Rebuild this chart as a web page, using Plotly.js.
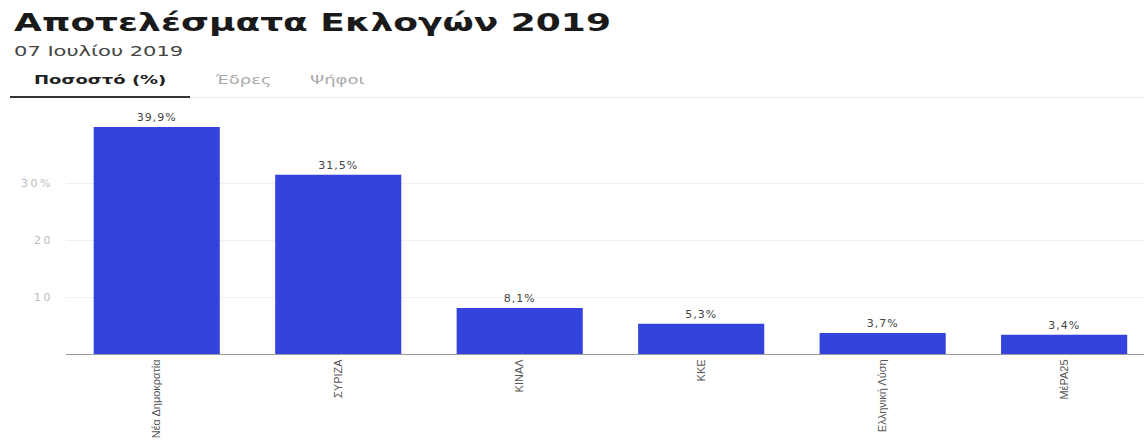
<!DOCTYPE html>
<html>
<head>
<meta charset="utf-8">
<script src="https://cdn.plot.ly/plotly-3.0.1.min.js"></script>
<style>
html,body{margin:0;padding:0;background:#fff;}
#chart{width:1144px;height:441px;}
.annotation text.annotation-text{transform:scaleX(1.5);transform-box:fill-box;transform-origin:0 50%;}
text.bartext{letter-spacing:1px;}
.ytick text{letter-spacing:2.5px;}
</style>
</head>
<body>
<div id="chart"></div>
<script>
const parties = ["Νέα Δημοκρατία", "ΣΥΡΙΖΑ", "ΚΙΝΑΛ", "ΚΚΕ", "Ελληνική Λύση", "ΜέΡΑ25"];
const percentages = [39.9, 31.5, 8.1, 5.3, 3.7, 3.4];
const yTickValues = [10, 20, 30];
const yTickLabels = ["10", "20", "30%"];
const titleText = "Αποτελέσματα Εκλογών 2019";
const subtitleText = "07 Ιουλίου 2019";
const tabLabels = ["Ποσοστό (%)", "Έδρες", "Ψήφοι"];

const W = 1144, H = 441;
const M = {l: 66, r: 0, t: 115, b: 87};
const PW = W - M.l - M.r, PH = H - M.t - M.b;
const px = x => (x - M.l) / PW;
const py = y => (H - M.b - y) / PH;

const annotations = [
  {text: "<b>" + titleText + "</b>", x: px(12), y: py(23), xanchor: "left", yanchor: "middle",
   font: {family: "DejaVu Sans", size: 24, color: "#1a1a1a"}},
  {text: subtitleText, x: px(12), y: py(51), xanchor: "left", yanchor: "middle",
   font: {family: "DejaVu Sans", size: 14, color: "#444"}},
  {text: "<b>" + tabLabels[0] + "</b>", x: px(32), y: py(80), xanchor: "left", yanchor: "middle",
   font: {family: "DejaVu Sans", size: 12, color: "#222"}},
  {text: tabLabels[1], x: px(212), y: py(80), xanchor: "left", yanchor: "middle",
   font: {family: "DejaVu Sans", size: 12, color: "#aaa"}},
  {text: tabLabels[2], x: px(308), y: py(80), xanchor: "left", yanchor: "middle",
   font: {family: "DejaVu Sans", size: 12, color: "#aaa"}}
].map(a => Object.assign({xref: "paper", yref: "paper", showarrow: false}, a));

const shapes = [
  {type: "line", xref: "paper", yref: "paper", x0: px(190), x1: px(1144), y0: py(97.5), y1: py(97.5),
   line: {color: "#eeeeee", width: 1}},
  {type: "line", xref: "paper", yref: "paper", x0: px(10), x1: px(190), y0: py(97), y1: py(97),
   line: {color: "#333", width: 2}}
];

const trace = {
  type: "bar",
  x: parties,
  y: percentages,
  marker: {color: "#3443DB"},
  texttemplate: "%{y:.1f}%",
  textposition: "outside",
  cliponaxis: false,
  textfont: {family: "DejaVu Sans", size: 11, color: "#444"},
  hoverinfo: "none"
};

const layout = {
  width: W, height: H,
  margin: M,
  paper_bgcolor: "#fff", plot_bgcolor: "#fff",
  separators: ",.",
  bargap: 0.305,
  showlegend: false,
  xaxis: {
    type: "category",
    range: [-0.5, 5.44],
    tickangle: -90,
    showgrid: false,
    showline: true, linecolor: "#999", linewidth: 1,
    ticks: "",
    tickfont: {family: "Liberation Sans", size: 11, color: "#555"},
    fixedrange: true
  },
  yaxis: {
    range: [0, 42],
    tickvals: yTickValues,
    ticktext: yTickLabels,
    showgrid: true, gridcolor: "#f0f0f0", gridwidth: 1,
    zeroline: false, showline: false,
    ticks: "",
    ticklabelstandoff: 12,
    tickfont: {family: "DejaVu Sans", size: 11, color: "#bbb"},
    fixedrange: true
  },
  annotations: annotations,
  shapes: shapes
};

Plotly.newPlot("chart", [trace], layout, {displayModeBar: false, staticPlot: true});
</script>
</body>
</html>
